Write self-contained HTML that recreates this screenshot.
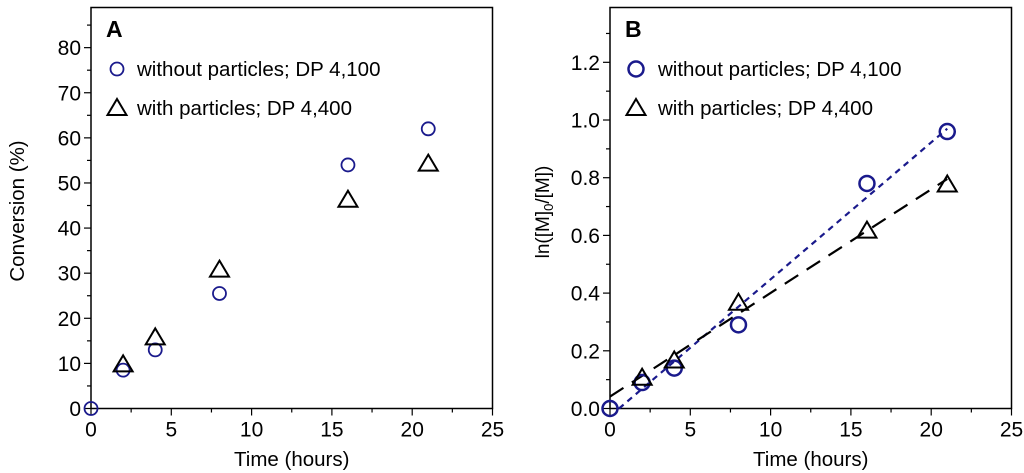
<!DOCTYPE html>
<html><head><meta charset="utf-8"><style>
html,body{margin:0;padding:0;background:#fff;width:1024px;height:473px;overflow:hidden}
svg{display:block;font-family:"Liberation Sans",Arial,sans-serif}
</style></head><body>
<svg id="chart" width="1024" height="473" viewBox="0 0 1024 473"></svg>
<script>
const timesA = [0, 2, 4, 8, 16, 21];
const convNoPart = [0, 8.5, 13, 25.5, 54, 62];
const timesTri = [2, 4, 8, 16, 21];
const convPart = [10, 16, 31, 46.5, 54.5];
const lnNoPart = [0, 0.09, 0.14, 0.29, 0.78, 0.96];
const lnPart = [0.11, 0.17, 0.37, 0.62, 0.78];
const xTicks = [0, 5, 10, 15, 20, 25];
const yTicksA = [0, 10, 20, 30, 40, 50, 60, 70, 80];
const yTicksB = ["0.0", "0.2", "0.4", "0.6", "0.8", "1.0", "1.2"];

const NS = "http://www.w3.org/2000/svg";
const svg = document.getElementById("chart");
function mk(tag, attrs, parent, text) {
  const e = document.createElementNS(NS, tag);
  for (const k in attrs) e.setAttribute(k, attrs[k]);
  if (text !== undefined) e.textContent = text;
  (parent || svg).appendChild(e);
  return e;
}
function fit(xs, ys) {
  const n = xs.length; let sx=0, sy=0, sxx=0, sxy=0;
  for (let i=0;i<n;i++){sx+=xs[i];sy+=ys[i];sxx+=xs[i]*xs[i];sxy+=xs[i]*ys[i];}
  const m=(n*sxy-sx*sy)/(n*sxx-sx*sx); return {m, b:(sy-m*sx)/n};
}
function tri(g, cx, cy, name) {
  const t = mk("path", {d:`M${cx},${cy-9} L${cx+9.5},${cy+7} L${cx-9.5},${cy+7} Z`, fill:"none", stroke:"#000", "stroke-width":2}, g);
  
  
}
function circ(g, cx, cy, r, w, name) {
  const c = mk("circle", {cx, cy, r, fill:"none", stroke:"#1a1a8c", "stroke-width":w}, g);
  
  
}

function panel(opt) {
  const L = opt.left, R = opt.left + 401.5, T = 7.5, B = 408.5;
  const x = v => L + v / 25 * (R - L);
  const y = v => B - v / opt.ymax * (B - T);
  const g = mk("g", {});
  
  
  const frame = mk("rect", {x:L, y:T, width:R-L, height:B-T, fill:"none", stroke:"#000", "stroke-width":1.5}, g);
  
  
  for (let v = 0; v <= 25.01; v += 2.5) {
    const major = Math.abs(v % 5) < 0.01;
    mk("line", {x1:x(v), x2:x(v), y1:B, y2:B + (major?7:4), stroke:"#000", "stroke-width":1.2}, g);
  }
  xTicks.forEach(v => {
    const t = mk("text", {x:x(v), y:B+28, "text-anchor":"middle", "font-size":21}, g, String(v));
    
    
  });
  const xt = mk("text", {x:(L+R)/2, y:466, "text-anchor":"middle", "font-size":20.5}, g, "Time (hours)");
  
  
  for (let v = 0; v <= opt.ymax + 1e-9; v += opt.minor) {
    const major = Math.abs(v / opt.major - Math.round(v / opt.major)) < 0.01;
    mk("line", {x1:L, x2:L - (major?7:4), y1:y(v), y2:y(v), stroke:"#000", "stroke-width":1.2}, g);
  }
  opt.yLabels.forEach(s => {
    const t = mk("text", {x:L-10, y:y(parseFloat(s))+7.5, "text-anchor":"end", "font-size":21}, g, s);
    
    
  });
  const lt = mk("text", {x:L+15, y:37, "font-size":23, "font-weight":"bold"}, g, opt.letter);
  
  
  return {g, x, y, L};
}

// Panel A
const A = panel({name:"panel-a", left:91, ymax:88.9, minor:5, major:10, yLabels:yTicksA.map(String), letter:"A"});
const yaT = mk("text", {transform:"translate(24,211) rotate(-90)", "text-anchor":"middle", "font-size":20.5}, A.g, "Conversion (%)");


timesA.forEach((t,i) => circ(A.g, A.x(t), A.y(convNoPart[i]), 6.5, 1.8, 'point-without-particles'));
timesTri.forEach((t,i) => tri(A.g, A.x(t), A.y(convPart[i]) + 1, 'point-with-particles'));
circ(A.g, 117, 69, 6.5, 1.8, 'legend-marker-circle');
tri(A.g, 117, 108, 'legend-marker-triangle');
let lg = mk("text", {x:137, y:76, "font-size":20.5}, A.g, "without particles; DP 4,100");


lg = mk("text", {x:137, y:115, "font-size":20.5}, A.g, "with particles; DP 4,400");



// Panel B
const Bp = panel({name:"panel-b", left:610, ymax:1.39, minor:0.1, major:0.2, yLabels:yTicksB, letter:"B"});
const ybT = mk("text", {transform:"translate(549,212) rotate(-90)", "text-anchor":"middle", "font-size":19}, Bp.g);


ybT.innerHTML = 'ln([M]<tspan font-size="13" dy="4">0</tspan><tspan dy="-4">/[M])</tspan>';
const f1 = fit(timesA, lnNoPart);
const x0b = Math.max(0, -f1.b / f1.m);
let ln = mk("line", {x1:Bp.x(x0b), y1:Bp.y(f1.m*x0b+f1.b), x2:Bp.x(21), y2:Bp.y(f1.m*21+f1.b), stroke:"#1a1a8c", "stroke-width":2.2, "stroke-dasharray":"6,5"}, Bp.g);


const f2 = fit([0].concat(timesTri), [0.03].concat(lnPart));
ln = mk("line", {x1:Bp.x(0), y1:Bp.y(f2.b), x2:Bp.x(21), y2:Bp.y(f2.m*21+f2.b), stroke:"#000", "stroke-width":2.2, "stroke-dasharray":"16,10"}, Bp.g);


timesA.forEach((t,i) => circ(Bp.g, Bp.x(t), Bp.y(lnNoPart[i]), 7.5, 2.5, 'point-without-particles'));
timesTri.forEach((t,i) => tri(Bp.g, Bp.x(t), Bp.y(lnPart[i]) + 1, 'point-with-particles'));
circ(Bp.g, 636, 69, 7.5, 2.5, 'legend-marker-circle');
tri(Bp.g, 636, 108, 'legend-marker-triangle');
lg = mk("text", {x:658, y:76, "font-size":20.5}, Bp.g, "without particles; DP 4,100");


lg = mk("text", {x:658, y:115, "font-size":20.5}, Bp.g, "with particles; DP 4,400");


</script>
</body></html>
